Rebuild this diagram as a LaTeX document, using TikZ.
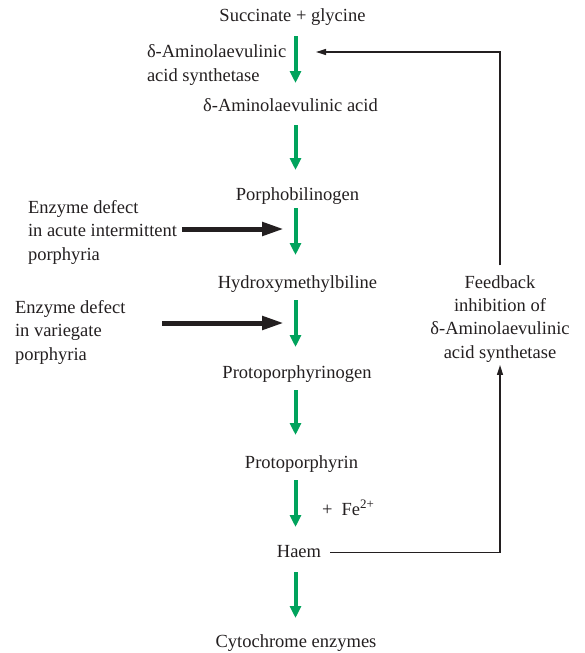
\documentclass[tikz,border=0pt]{standalone}
\usepackage{fontspec}
\setmainfont{Liberation Serif}
\usetikzlibrary{arrows.meta}
\definecolor{ink}{HTML}{231F20}
\definecolor{pathgreen}{RGB}{0,163,92}
\begin{document}
\begin{tikzpicture}[x=1pt,y=-1pt,
  every node/.style={inner sep=0pt,outer sep=0pt,text=ink,font=\fontsize{18.5}{23.3}\selectfont},
  chem/.style={anchor=base,text height=13pt,text depth=4pt},
  note/.style={align=left,anchor=base west},
  garrow/.style={draw=pathgreen,line width=4pt,-{Triangle[length=12pt,width=11pt]},shorten <=8pt,shorten >=17pt},
  barrow/.style={draw=ink,line width=5pt,-{Triangle[length=22pt,width=13pt]}},
  farrow/.style={draw=ink,line width=1.5pt,-{Triangle[length=10pt,width=6pt]}}]
\useasboundingbox (0,0) rectangle (585,653);
\coordinate (ax) at (295.5,0);
% main pathway
\node[chem] (succ) at (292.5,21) {Succinate + glycine};
\node[chem] (ala) at (290.5,111) {δ-Aminolaevulinic acid};
\node[chem] (pbg) at (297.5,200) {Porphobilinogen};
\node[chem] (hmb) at (297.5,288) {Hydroxymethylbiline};
\node[chem] (ppg) at (297,378) {Protoporphyrinogen};
\node[chem] (pp) at (301.5,468) {Protoporphyrin};
\node[chem] (haem) at (299,557) {Haem};
\node[chem] (cyto) at (296,647) {Cytochrome enzymes};
% side labels (base anchor = baseline of the last line)
\node[note] (enz) at (147,81) {δ-Aminolaevulinic\\acid synthetase};
\node[note] (def1) at (28,260) {Enzyme defect\\in acute intermittent\\porphyria};
\node[note] (def2) at (15,360) {Enzyme defect\\in variegate\\porphyria};
\node[anchor=base west] (fe) at (322,515) {+\ \ Fe\textsuperscript{2+}};
\node[align=center,anchor=base] (fb) at (500,358) {Feedback\\inhibition of\\δ-Aminolaevulinic\\acid synthetase};
% green pathway arrows
\draw[garrow,shorten <=11pt,shorten >=15pt] (succ.south -| ax) -- (ala.north -| ax);
\draw[garrow,shorten <=10pt] (ala.south -| ax) -- (pbg.north -| ax);
\draw[garrow,shorten <=4pt,shorten >=20pt] (pbg.south -| ax) -- (hmb.north -| ax);
\draw[garrow,shorten >=18pt] (hmb.south -| ax) -- (ppg.north -| ax);
\draw[garrow,shorten >=20pt] (ppg.south -| ax) -- (pp.north -| ax);
\draw[garrow] (pp.south -| ax) -- (haem.north -| ax);
\draw[garrow,shorten <=11pt,shorten >=16pt] (haem.south -| ax) -- (cyto.north -| ax);
% enzyme defect arrows
\coordinate (t1) at (284,229);
\coordinate (t2) at (284,323);
\draw[barrow] ([xshift=5pt]def1.east |- t1) -- (t1);
\draw[barrow] (162,323) -- (t2);
% feedback loop
\coordinate (fbtip) at (316,52);
\draw[farrow] ([xshift=9pt]haem.east) -| ([yshift=-3pt]fb.south);
\draw[farrow] ([yshift=10pt]fb.north) |- (fbtip);
\end{tikzpicture}
\end{document}
